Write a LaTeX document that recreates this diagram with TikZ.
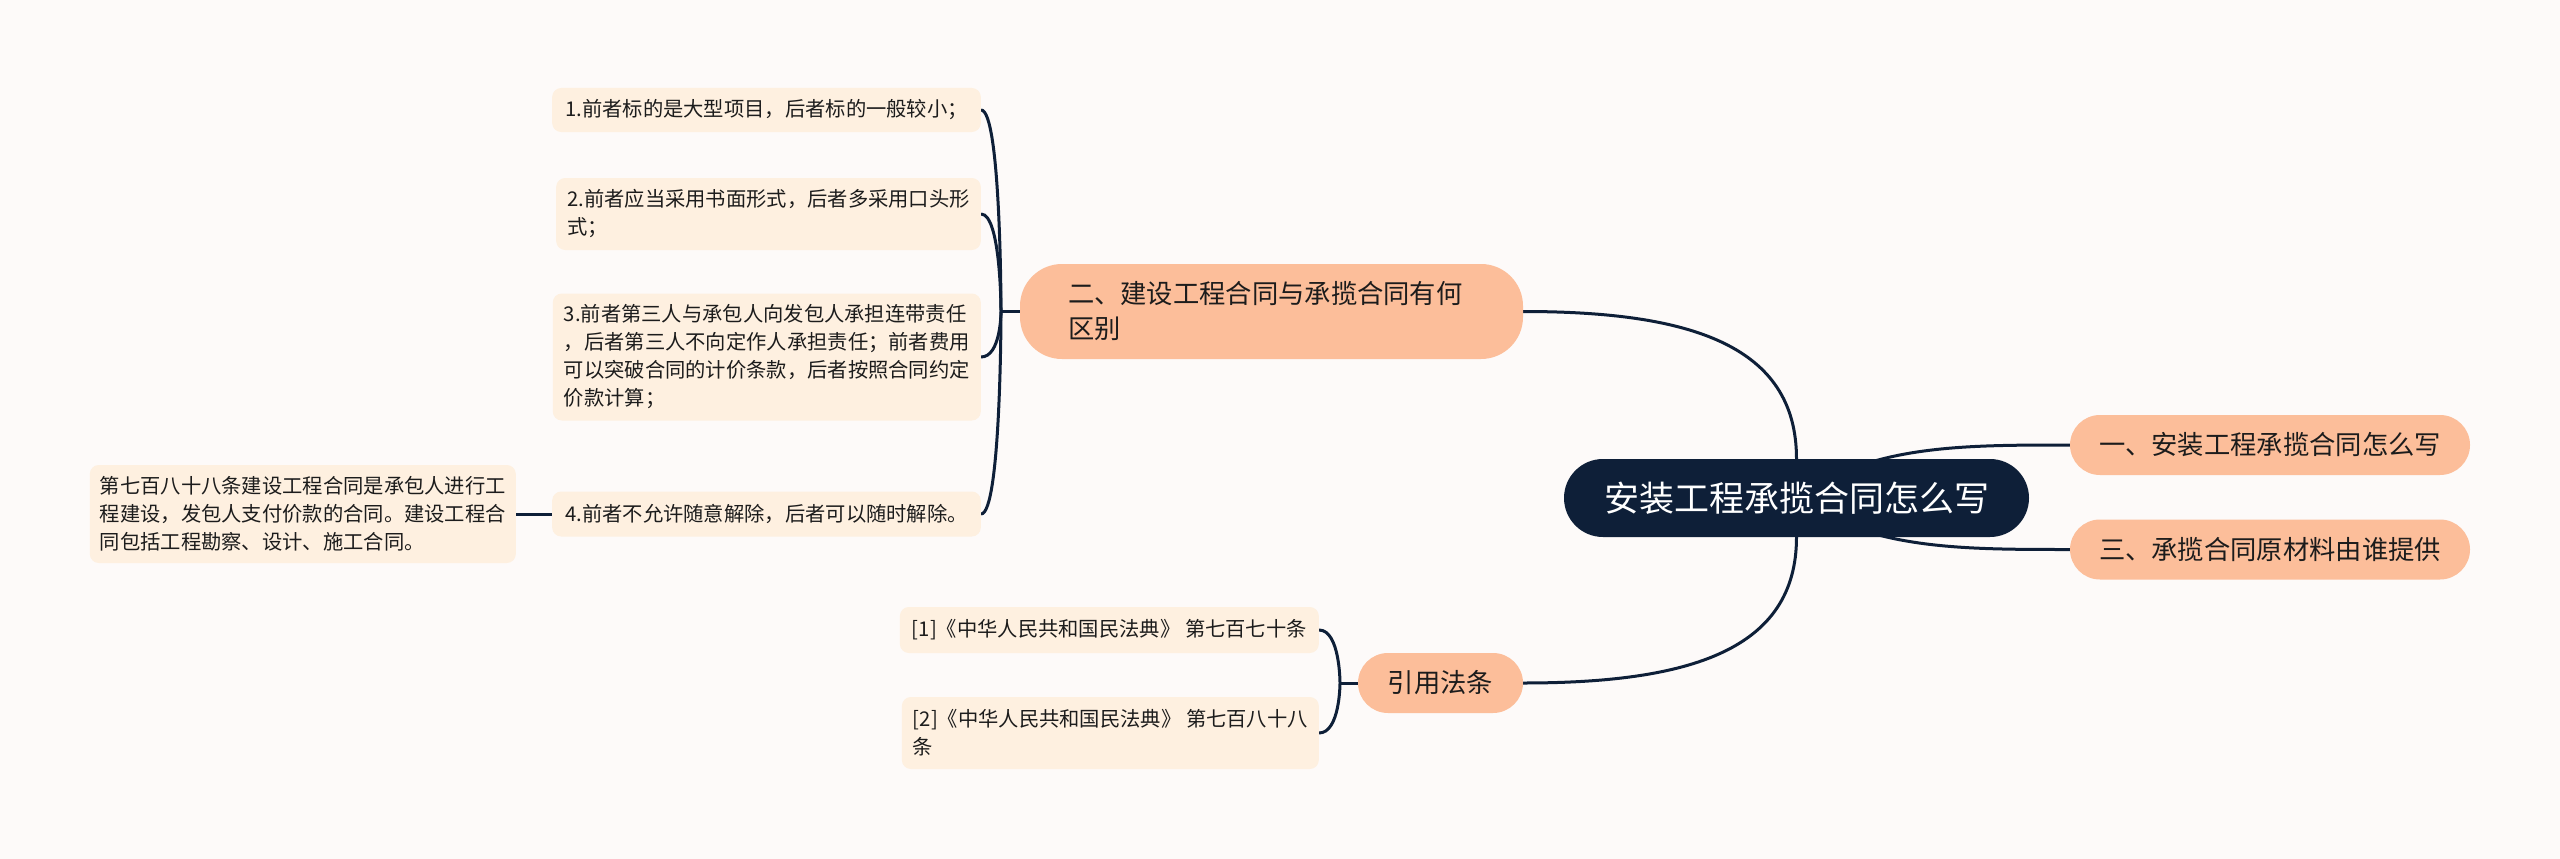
\documentclass[tikz,border=0pt]{standalone}
\usepackage{fontspec}
\setmainfont{Noto Sans CJK SC}
\usetikzlibrary{calc}
\definecolor{bgc}{RGB}{253,250,249}
\definecolor{peach}{RGB}{252,190,154}
\definecolor{cream}{RGB}{254,240,224}
\definecolor{navy}{RGB}{14,31,56}
\definecolor{ink}{RGB}{28,28,28}
\pgfdeclarelayer{back}
\pgfdeclarelayer{bg}
\pgfsetlayers{back,bg,main}
\tikzset{
  rootbox/.style={fill=navy, text=white, rounded corners=39pt, minimum width=465pt, minimum height=78pt, inner sep=0pt, font={\fontsize{35}{42}\selectfont}},
  midbox/.style={fill=peach, text=ink, rounded corners=30pt, minimum height=60pt, inner sep=0pt, font={\fontsize{26.3}{35}\selectfont}},
  leafbox/.style={fill=cream, text=ink, rounded corners=9pt, inner xsep=11pt, inner ysep=0pt, align=left, font={\fontsize{20.3}{28}\selectfont}},
  link/.style={draw=navy, line width=3pt},
}
\begin{document}
\begin{tikzpicture}[x=1pt,y=-1pt]
\useasboundingbox (0,0) rectangle (2560,859);
\begin{pgfonlayer}{back}
\fill[bgc] (0,0) rectangle (2560,859);
\end{pgfonlayer}

\node[rootbox] (root) at (1796.5,498) {安装工程承揽合同怎么写};
\node[midbox, minimum width=400pt] (n1) at (2270,445) {一、安装工程承揽合同怎么写};
\node[midbox, minimum width=400pt] (n3) at (2270,549.5) {三、承揽合同原材料由谁提供};
\node[midbox, rounded corners=42pt, minimum height=95pt, text width=407pt, inner xsep=48pt, align=left] (n2) at (1271.5,311.5) {二、建设工程合同与承揽合同有何\\区别};
\node[midbox, minimum width=165pt] (law) at (1440.5,683) {引用法条};

\node[leafbox, anchor=east, minimum height=44pt, inner xsep=13pt] (l1) at (981,110) {1.前者标的是大型项目，后者标的一般较小；};
\node[leafbox, anchor=east, minimum height=72pt] (l2) at (981,214) {2.前者应当采用书面形式，后者多采用口头形\\式；};
\node[leafbox, anchor=east, minimum height=127pt] (l3) at (981,357) {3.前者第三人与承包人向发包人承担连带责任\\，后者第三人不向定作人承担责任；前者费用\\可以突破合同的计价条款，后者按照合同约定\\价款计算；};
\node[leafbox, anchor=east, minimum height=45pt, inner xsep=13pt] (l4) at (981,514) {4.前者不允许随意解除，后者可以随时解除。};
\node[leafbox, anchor=east, minimum height=98pt, inner xsep=10pt] (far) at (516,514) {第七百八十八条建设工程合同是承包人进行工\\程建设，发包人支付价款的合同。建设工程合\\同包括工程勘察、设计、施工合同。};

\node[leafbox, anchor=east, minimum height=46pt, inner xsep=12pt] (c1) at (1319,630) {[1]《中华人民共和国民法典》 第七百七十条};
\node[leafbox, anchor=east, minimum height=72pt] (c2) at (1319,733) {[2]《中华人民共和国民法典》 第七百八十八\\条};

\coordinate (j2) at (1001,311.5);
\coordinate (jl) at (1340,683);

\begin{pgfonlayer}{bg}
\draw[link] (root.north) .. controls (1796.5,345) and (1690,311.5) .. (n2.east);
\draw[link] (root.south) .. controls (1796.5,650) and (1690,683) .. (law.east);
\draw[link] (root.center) .. controls (1870,445) and (1960,445) .. (n1.west);
\draw[link] (root.center) .. controls (1870,549.5) and (1960,549.5) .. (n3.west);

\draw[link] (n2.west) -- (j2);
\foreach \n in {l1,l2,l3,l4}{
  \draw[link] (\n.east) .. controls ($(\n.east)+(20,0)$) and (j2) .. (j2);
}
\draw[link] (l4.west) -- (far.east);

\draw[link] (law.west) -- (jl);
\foreach \n in {c1,c2}{
  \draw[link] (\n.east) .. controls ($(\n.east)+(21,0)$) and (jl) .. (jl);
}
\end{pgfonlayer}
\end{tikzpicture}
\end{document}
